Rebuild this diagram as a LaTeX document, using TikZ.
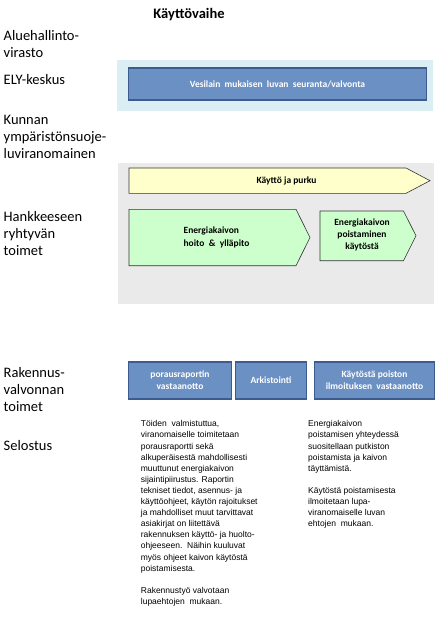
\documentclass[tikz,border=0pt]{standalone}
\usepackage{fontspec}
\setmainfont{Carlito}
\newfontfamily\notefont{Liberation Sans}
\usetikzlibrary{positioning}
\definecolor{laneblue}{HTML}{DBEEF4}
\definecolor{lanegray}{HTML}{EAEAEA}
\definecolor{boxblue}{HTML}{6B90C4}
\definecolor{boxedge}{HTML}{3B5C8C}
\definecolor{phaseyellow}{HTML}{FFFFCC}
\definecolor{phasegreen}{HTML}{CCFFCC}
\tikzset{every node/.style={inner sep=0pt},
  rowlabel/.style={anchor=west,align=left,font=\fontsize{14.5}{17}\selectfont},
  actionbox/.style={draw=boxedge,fill=boxblue,line width=1.3pt,text=white,
    align=center,font=\bfseries\fontsize{9.5}{12.3}\selectfont},
  phase/.style={draw=black!80,line width=.6pt},
  phasetext/.style={align=center,font=\bfseries\fontsize{9.5}{12.3}\selectfont},
  notes/.style={anchor=north west,align=left,font=\notefont\fontsize{8.5}{11.1}\selectfont}}

\begin{document}
\begin{tikzpicture}[x=1pt,y=-1pt]
\useasboundingbox (0,0) rectangle (446,642);
% lanes
\fill[laneblue] (117,60) rectangle (433,111);
\fill[lanegray] (118,163) rectangle (434,304);
\node[font=\bfseries\fontsize{14.5}{17}\selectfont] (phase) at (189,15) {Käyttövaihe};
% row labels
\node[rowlabel] (avi) at (3.5,44) {Aluehallinto-\\virasto};
\node[rowlabel] (ely) at (3.5,80) {ELY-keskus};
\node[rowlabel] (kunta) at (3.5,136.5) {Kunnan\\ympäristönsuoje-\\luviranomainen};
\node[rowlabel] (hanke) at (3.5,234) {Hankkeeseen\\ryhtyvän\\toimet};
\node[rowlabel] (rava) at (3.5,390) {Rakennus-\\valvonnan\\toimet};
\node[rowlabel] (selostus) at (3.5,446) {Selostus};
% authority boxes
\node[actionbox,minimum width=298pt,minimum height=32pt] (valvonta) at (277.5,84) {Vesilain\ \ mukaisen\ \ luvan\ \ seuranta/valvonta};
\node[actionbox,minimum width=103pt,minimum height=37pt] (raportti) at (180,380.5) {porausraportin\\vastaanotto};
\node[actionbox,minimum width=71pt,minimum height=37pt] (arkisto) at (271,380.5) {Arkistointi};
\node[actionbox,minimum width=120pt,minimum height=37pt] (ilmoitus) at (374.5,380.5) {Käytöstä poiston\\ilmoituksen\ \ vastaanotto};
% phase arrows
\draw[phase,fill=phaseyellow] (129,168) -- (406,168) -- (430,180.7) -- (406,193.3) -- (129,193.3) -- cycle;
\node[phasetext] (purku) at (286.5,180.7) {Käyttö ja purku};
\draw[phase,fill=phasegreen] (129,209.3) -- (296,209.3) -- (310,237.5) -- (296,265.7) -- (129,265.7) -- cycle;
\node[phasetext,align=left] (hoito) at (216.5,237.5) {Energiakaivon\\hoito\ \ \&\ \ ylläpito};
\draw[phase,fill=phasegreen] (320,211) -- (403.5,211) -- (416,235.8) -- (403.5,260.7) -- (320,260.7) -- cycle;
\node[phasetext] (poisto) at (362,235) {Energiakaivon\\poistaminen\\käytöstä};
% notes
\node[notes] (selostus1) at (140.7,420.5) {Töiden\ \ valmistuttua,\\viranomaiselle toimitetaan\\porausraportti sekä\\alkuperäisestä mahdollisesti\\muuttunut energiakaivon\\sijaintipiirustus. Raportin\\tekniset tiedot, asennus- ja\\käyttöohjeet, käytön rajoitukset\\ja mahdolliset muut tarvittavat\\asiakirjat on liitettävä\\rakennuksen käyttö- ja huolto-\\ohjeeseen.\ \ Näihin kuuluvat\\myös ohjeet kaivon käytöstä\\poistamisesta.\\[11.1pt]Rakennustyö valvotaan\\lupaehtojen\ \ mukaan.};
\node[notes] (selostus2) at (308,420.5) {Energiakaivon\\poistamisen yhteydessä\\suositellaan putkiston\\poistamista ja kaivon\\täyttämistä.\\[11.1pt]Käytöstä poistamisesta\\ilmoitetaan lupa-\\viranomaiselle luvan\\ehtojen\ \ mukaan.};
\end{tikzpicture}
\end{document}
